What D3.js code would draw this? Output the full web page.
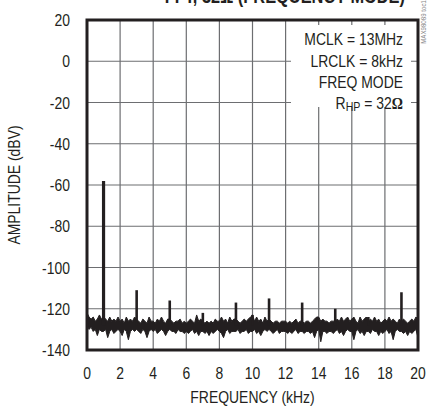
<!DOCTYPE html>
<html>
<head>
<meta charset="utf-8">
<script src="https://cdn.jsdelivr.net/npm/d3@7"></script>
<style>
body { margin: 0; background: #fff; }
svg { display: block; }
text { font-family: "Liberation Sans", Arial, sans-serif; fill: #231f20; }
</style>
</head>
<body>
<svg id="chart" width="428" height="409"></svg>
<script>
// tick labels
var xTicks = [0, 2, 4, 6, 8, 10, 12, 14, 16, 18, 20];
var yTicks = [20, 0, -20, -40, -60, -80, -100, -120, -140];

// harmonic spikes (kHz, dBV)
var harmFreq  = [1, 3, 5, 7, 9, 10, 11, 13, 15, 17, 19];
var harmLevel = [-58, -111, -116, -122, -117, -123, -115, -117, -120, -124, -112];

// noise floor envelope, every 0.125 kHz from 0 to 20 kHz
var noiseHi = [
  -122,-124,-125,-124,-126,-125,-123,-125,
  -124,-125,-126,-124,-126,-125,-126,-124,
  -126,-125,-127,-124,-126,-125,-126,-124,
  -125,-126,-127,-125,-126,-127,-124,-126,
  -126,-127,-125,-126,-124,-126,-127,-125,
  -125,-126,-127,-126,-126,-125,-127,-126,
  -127,-126,-125,-126,-127,-123,-126,-125,
  -126,-127,-126,-127,-126,-127,-125,-126,
  -126,-124,-126,-125,-127,-124,-126,-125,
  -125,-126,-127,-126,-125,-126,-125,-124,
  -123,-126,-124,-126,-125,-127,-124,-126,
  -125,-126,-127,-126,-126,-127,-126,-126,
  -126,-127,-126,-127,-126,-125,-127,-126,
  -126,-127,-126,-126,-127,-126,-125,-124,
  -124,-126,-125,-126,-126,-127,-126,-126,
  -126,-125,-126,-124,-126,-125,-124,-126,
  -125,-124,-126,-127,-124,-126,-125,-124,
  -126,-125,-126,-124,-126,-125,-127,-126,
  -125,-126,-124,-126,-125,-126,-127,-125,
  -126,-125,-126,-127,-126,-125,-126,-124,
  -125];
var noiseLo = [
  -128,-130,-129,-131,-130,-133,-130,-131,
  -131,-130,-134,-131,-130,-132,-131,-130,
  -131,-133,-130,-131,-135,-131,-130,-131,
  -130,-131,-132,-130,-131,-134,-131,-130,
  -131,-130,-132,-131,-130,-131,-133,-131,
  -130,-131,-131,-132,-130,-131,-131,-132,
  -131,-132,-131,-130,-132,-131,-133,-131,
  -131,-132,-131,-133,-131,-132,-131,-130,
  -131,-132,-134,-131,-130,-132,-131,-131,
  -131,-130,-132,-131,-131,-130,-132,-131,
  -131,-130,-132,-131,-133,-131,-130,-131,
  -130,-131,-132,-131,-130,-132,-131,-131,
  -131,-132,-131,-132,-131,-130,-132,-131,
  -131,-132,-131,-131,-132,-131,-134,-131,
  -130,-136,-131,-131,-132,-131,-131,-132,
  -131,-130,-132,-131,-133,-131,-130,-131,
  -131,-135,-131,-130,-132,-131,-133,-131,
  -131,-132,-130,-131,-131,-133,-131,-132,
  -131,-130,-132,-131,-135,-131,-130,-131,
  -131,-132,-131,-133,-131,-132,-131,-130,
  -134];

var legendLines = ["MCLK = 13MHz", "LRCLK = 8kHz", "FREQ MODE"];

var mLeft = 87, mRight = 418, mTop = 20, mBottom = 350;
var squeeze = 0.82;   // narrow font look

var svg = d3.select("#chart");

var x = d3.scaleLinear().domain([0, 20]).range([mLeft, mRight]);
var y = d3.scaleLinear().domain([-140, 20]).range([mBottom, mTop]);

function label(g, px, py, rot) {
  return g.append("text")
    .attr("transform", "translate(" + px + "," + py + ")" + (rot ? " rotate(" + rot + ")" : "") + " scale(" + squeeze + ",1)");
}

// cropped title at the very top
label(svg, 405, 3).attr("text-anchor", "end")
  .style("font-size", "20px").style("font-weight", "bold")
  .text("FFT, 32\u03A9 (FREQUENCY MODE)");

// grid
svg.append("g").selectAll("line").data(xTicks.slice(1, -1)).enter().append("line")
  .attr("x1", function(d) { return x(d); }).attr("x2", function(d) { return x(d); })
  .attr("y1", mTop).attr("y2", mBottom)
  .attr("stroke", "#6d6e71").attr("stroke-width", 1.2);
svg.append("g").selectAll("line").data(yTicks.slice(1, -1)).enter().append("line")
  .attr("x1", mLeft).attr("x2", mRight)
  .attr("y1", function(d) { return y(d); }).attr("y2", function(d) { return y(d); })
  .attr("stroke", "#6d6e71").attr("stroke-width", 1.2);

// legend box covers the grid
svg.append("rect")
  .attr("x", 291).attr("y", 25).attr("width", 120).attr("height", 82)
  .attr("fill", "#fff");

var lg = svg.append("g").attr("text-anchor", "end").style("font-size", "17px");
legendLines.forEach(function(t, i) {
  label(lg, 403, 45 + i * 21.5).text(t);
});
var rhp = label(lg, 403, 109);
rhp.append("tspan").text("R");
rhp.append("tspan").style("font-size", "13px").attr("dy", 2).text("HP");
rhp.append("tspan").attr("dy", -2).text(" = 32");
rhp.append("tspan").style("font-family", "'Liberation Serif', serif").style("font-weight", "bold").text("\u03A9");

// noise floor
var fStep = 20 / (noiseHi.length - 1);
var area = d3.area()
  .x(function(d, i) { return x(i * fStep); })
  .y0(function(d, i) { return y(noiseLo[i]); })
  .y1(function(d, i) { return y(noiseHi[i]); });
svg.append("path").datum(noiseHi)
  .attr("d", area)
  .attr("fill", "#231f20").attr("stroke", "#231f20").attr("stroke-width", 1);

// harmonic spikes
svg.append("g").selectAll("line").data(harmFreq).enter().append("line")
  .attr("x1", function(d) { return x(d); }).attr("x2", function(d) { return x(d); })
  .attr("y1", y(-128))
  .attr("y2", function(d, i) { return y(harmLevel[i]); })
  .attr("stroke", "#231f20")
  .attr("stroke-width", function(d, i) { return i === 0 ? 3.2 : 2.6; });

// frame
svg.append("rect")
  .attr("x", mLeft).attr("y", mTop)
  .attr("width", mRight - mLeft).attr("height", mBottom - mTop)
  .attr("fill", "none").attr("stroke", "#231f20").attr("stroke-width", 3);

// axis labels
var yl = svg.append("g").attr("text-anchor", "end").style("font-size", "17px");
yTicks.forEach(function(d) { label(yl, 70, y(d) + 6).text(d); });
var xl = svg.append("g").attr("text-anchor", "middle").style("font-size", "17px");
xTicks.forEach(function(d) { label(xl, x(d), 379).text(d); });

label(svg, (mLeft + mRight) / 2, 403).attr("text-anchor", "middle")
  .style("font-size", "17px").text("FREQUENCY (kHz)");
label(svg, 20, (mTop + mBottom) / 2, -90).attr("text-anchor", "middle")
  .style("font-size", "17px").text("AMPLITUDE (dBV)");

// side id
label(svg, 426, 19, -90).attr("text-anchor", "middle")
  .style("font-size", "7.5px").style("fill", "#888")
  .text("MAX98089 toc111");
</script>
</body>
</html>
